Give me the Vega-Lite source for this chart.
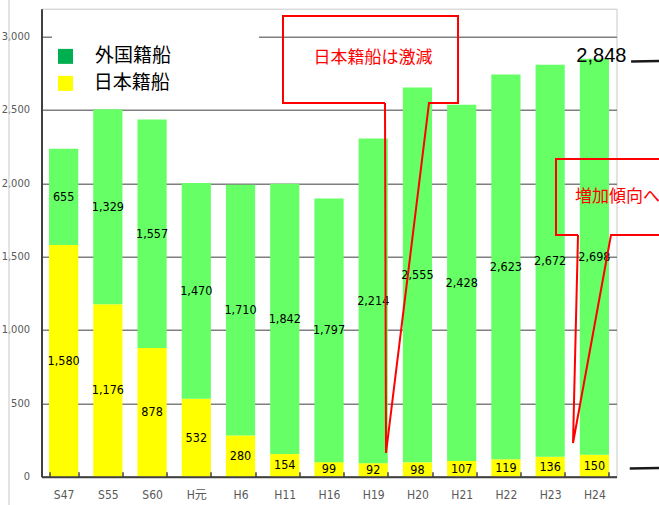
{
  "$schema": "https://vega.github.io/schema/vega-lite/v6.json",
  "width": 575,
  "height": 468,
  "autosize": "none",
  "padding": {"left": 41.5, "top": 8.7, "right": 42, "bottom": 28.3},
  "background": "white",
  "config": {
    "view": {"stroke": "#c8c8c8", "strokeWidth": 1},
    "text": {"font": "Liberation Sans Narrow, DejaVu Sans Condensed, Noto Sans CJK JP, sans-serif"},
    "axisY": {
      "title": null,
      "labelColor": "#595959",
      "labelFont": "Liberation Sans Narrow, DejaVu Sans Condensed, sans-serif",
      "labelFontSize": 11,
      "labelPadding": 12,
      "ticks": false,
      "domainColor": "#404040",
      "domainWidth": 2,
      "gridColor": "#7f7f7f",
      "gridWidth": 1.5
    }
  },
  "datasets": {
    "ships": [
      {"era": "S47", "type": "日本籍船", "count": 1580},
      {"era": "S47", "type": "外国籍船", "count": 655},
      {"era": "S55", "type": "日本籍船", "count": 1176},
      {"era": "S55", "type": "外国籍船", "count": 1329},
      {"era": "S60", "type": "日本籍船", "count": 878},
      {"era": "S60", "type": "外国籍船", "count": 1557},
      {"era": "H元", "type": "日本籍船", "count": 532},
      {"era": "H元", "type": "外国籍船", "count": 1470},
      {"era": "H6", "type": "日本籍船", "count": 280},
      {"era": "H6", "type": "外国籍船", "count": 1710},
      {"era": "H11", "type": "日本籍船", "count": 154},
      {"era": "H11", "type": "外国籍船", "count": 1842},
      {"era": "H16", "type": "日本籍船", "count": 99},
      {"era": "H16", "type": "外国籍船", "count": 1797},
      {"era": "H19", "type": "日本籍船", "count": 92},
      {"era": "H19", "type": "外国籍船", "count": 2214},
      {"era": "H20", "type": "日本籍船", "count": 98},
      {"era": "H20", "type": "外国籍船", "count": 2555},
      {"era": "H21", "type": "日本籍船", "count": 107},
      {"era": "H21", "type": "外国籍船", "count": 2428},
      {"era": "H22", "type": "日本籍船", "count": 119},
      {"era": "H22", "type": "外国籍船", "count": 2623},
      {"era": "H23", "type": "日本籍船", "count": 136},
      {"era": "H23", "type": "外国籍船", "count": 2672},
      {"era": "H24", "type": "日本籍船", "count": 150},
      {"era": "H24", "type": "外国籍船", "count": 2698}
    ],
    "callouts": [
      {"id": "decline", "i": 0, "bx": 7.766, "v": 2548},
      {"id": "decline", "i": 1, "bx": 5.46, "v": 2548},
      {"id": "decline", "i": 2, "bx": 5.46, "v": 3141},
      {"id": "decline", "i": 3, "bx": 9.417, "v": 3141},
      {"id": "decline", "i": 4, "bx": 9.417, "v": 2548},
      {"id": "decline", "i": 5, "bx": 8.761, "v": 2548},
      {"id": "decline", "i": 6, "bx": 7.789, "v": 162},
      {"id": "decline", "i": 7, "bx": 7.766, "v": 2548},
      {"id": "rise", "i": 0, "bx": 12.13, "v": 1648},
      {"id": "rise", "i": 1, "bx": 11.632, "v": 1648},
      {"id": "rise", "i": 2, "bx": 11.632, "v": 2166},
      {"id": "rise", "i": 3, "bx": 14.89, "v": 2166},
      {"id": "rise", "i": 4, "bx": 14.89, "v": 1648},
      {"id": "rise", "i": 5, "bx": 12.876, "v": 1648},
      {"id": "rise", "i": 6, "bx": 12.017, "v": 230},
      {"id": "rise", "i": 7, "bx": 12.13, "v": 1648}
    ],
    "legendItems": [
      {"type": "外国籍船", "bx": 0.543, "v": 2865, "tx": 1.21},
      {"type": "日本籍船", "bx": 0.543, "v": 2681, "tx": 1.18}
    ]
  },
  "resolve": {"scale": {"x": "independent"}, "axis": {"x": "independent"}},
  "layer": [
    {
      "data": {"name": "ships"},
      "transform": [
        {"stack": "count", "groupby": ["era"], "sort": [{"field": "type", "order": "descending"}], "as": ["y0", "y1"]}
      ],
      "encoding": {
        "x": {
          "field": "era",
          "type": "nominal",
          "sort": ["S47", "S55", "S60", "H元", "H6", "H11", "H16", "H19", "H20", "H21", "H22", "H23", "H24"],
          "scale": {"paddingInner": 0.34, "paddingOuter": 0.17},
          "axis": {
            "title": null,
            "labelAngle": 0,
            "labelColor": "#595959",
            "labelFont": "Liberation Sans Narrow, DejaVu Sans Condensed, Noto Sans CJK JP, sans-serif",
            "labelFontSize": 12,
            "labelPadding": 18,
            "domainColor": "#404040",
            "domainWidth": 2,
            "tickBand": "extent",
            "tickSize": -5,
            "tickColor": "#404040",
            "tickWidth": 1.5,
            "zindex": 1
          }
        }
      },
      "layer": [
        {
          "mark": {"type": "bar"},
          "encoding": {
            "y": {
              "field": "y0",
              "type": "quantitative",
              "scale": {"domain": [0, 3190], "nice": false},
              "axis": {"title": null, "values": [0, 500, 1000, 1500, 2000, 2500, 3000], "labelExpr": "format(datum.value, ',')"}
            },
            "y2": {"field": "y1"},
            "color": {
              "field": "type",
              "type": "nominal",
              "scale": {"domain": ["外国籍船", "日本籍船"], "range": ["#66ff66", "#ffff00"]},
              "legend": null
            }
          }
        },
        {
          "transform": [{"fold": ["y0", "y1"], "as": ["end", "pos"]}],
          "mark": {"type": "text", "fontSize": 12.5, "color": "#000000", "baseline": "middle"},
          "encoding": {
            "y": {"aggregate": "mean", "field": "pos", "type": "quantitative", "scale": {"domain": [0, 3190], "nice": false}, "axis": {"title": null, "values": [0, 500, 1000, 1500, 2000, 2500, 3000], "labelExpr": "format(datum.value, ',')"}},
            "detail": {"field": "type"},
            "text": {"field": "count", "type": "quantitative", "format": ","}
          }
        },
        {
          "transform": [{"filter": "datum.era === 'H24' && datum.type === '外国籍船'"}],
          "mark": {"type": "text", "font": "Liberation Sans, Arial, sans-serif", "fontSize": 20, "color": "#000000", "baseline": "alphabetic", "dx": 7, "dy": 3},
          "encoding": {
            "y": {"field": "y1", "type": "quantitative", "scale": {"domain": [0, 3190], "nice": false}, "axis": {"title": null, "values": [0, 500, 1000, 1500, 2000, 2500, 3000], "labelExpr": "format(datum.value, ',')"}},
            "text": {"field": "y1", "type": "quantitative", "format": ","}
          }
        }
      ]
    },
    {
      "layer": [
        {
          "data": {"values": [{"x0": 0.237, "x1": 4.918, "v0": 2568, "v1": 3046}]},
          "mark": {"type": "rect", "fill": "white"},
          "encoding": {
            "x": {"field": "x0", "type": "quantitative", "scale": {"domain": [0, 13], "nice": false, "zero": false}, "axis": null},
            "x2": {"field": "x1"},
            "y": {"field": "v0", "type": "quantitative", "scale": {"domain": [0, 3190], "nice": false}, "axis": {"title": null, "values": [0, 500, 1000, 1500, 2000, 2500, 3000], "labelExpr": "format(datum.value, ',')"}},
            "y2": {"field": "v1"}
          }
        },
        {
          "data": {"name": "legendItems"},
          "mark": {"type": "square", "size": 225, "filled": true, "opacity": 1},
          "encoding": {
            "x": {"field": "bx", "type": "quantitative", "scale": {"domain": [0, 13], "nice": false, "zero": false}, "axis": null},
            "y": {"field": "v", "type": "quantitative", "scale": {"domain": [0, 3190], "nice": false}, "axis": {"title": null, "values": [0, 500, 1000, 1500, 2000, 2500, 3000], "labelExpr": "format(datum.value, ',')"}},
            "fill": {"field": "type", "type": "nominal", "scale": {"domain": ["外国籍船", "日本籍船"], "range": ["#00b050", "#ffff00"]}, "legend": null}
          }
        },
        {
          "data": {"name": "legendItems"},
          "mark": {"type": "text", "font": "Noto Sans CJK JP, sans-serif", "fontSize": 19, "color": "#000000", "align": "left", "baseline": "middle"},
          "encoding": {
            "x": {"field": "tx", "type": "quantitative", "scale": {"domain": [0, 13], "nice": false, "zero": false}, "axis": null},
            "y": {"field": "v", "type": "quantitative", "scale": {"domain": [0, 3190], "nice": false}, "axis": {"title": null, "values": [0, 500, 1000, 1500, 2000, 2500, 3000], "labelExpr": "format(datum.value, ',')"}},
            "text": {"field": "type"}
          }
        },
        {
          "data": {"name": "callouts"},
          "mark": {"type": "line", "color": "#ff0000", "strokeWidth": 2, "strokeJoin": "miter"},
          "encoding": {
            "x": {"field": "bx", "type": "quantitative", "scale": {"domain": [0, 13], "nice": false, "zero": false}, "axis": null},
            "y": {"field": "v", "type": "quantitative", "scale": {"domain": [0, 3190], "nice": false}, "axis": {"title": null, "values": [0, 500, 1000, 1500, 2000, 2500, 3000], "labelExpr": "format(datum.value, ',')"}},
            "detail": {"field": "id"},
            "order": {"field": "i", "type": "quantitative"}
          }
        },
        {
          "data": {"values": [{"note": "日本籍船は激減", "bx": 7.495, "v": 2855}]},
          "mark": {"type": "text", "font": "Noto Sans CJK JP, sans-serif", "fontSize": 17, "color": "#ff0000", "align": "center", "baseline": "middle"},
          "encoding": {
            "x": {"field": "bx", "type": "quantitative", "scale": {"domain": [0, 13], "nice": false, "zero": false}, "axis": null},
            "y": {"field": "v", "type": "quantitative", "scale": {"domain": [0, 3190], "nice": false}, "axis": {"title": null, "values": [0, 500, 1000, 1500, 2000, 2500, 3000], "labelExpr": "format(datum.value, ',')"}},
            "text": {"field": "note"}
          }
        },
        {
          "data": {"values": [{"note": "増加傾向へ", "bx": 12.06, "v": 1906}]},
          "mark": {"type": "text", "font": "Noto Sans CJK JP, sans-serif", "fontSize": 17, "color": "#ff0000", "align": "left", "baseline": "middle"},
          "encoding": {
            "x": {"field": "bx", "type": "quantitative", "scale": {"domain": [0, 13], "nice": false, "zero": false}, "axis": null},
            "y": {"field": "v", "type": "quantitative", "scale": {"domain": [0, 3190], "nice": false}, "axis": {"title": null, "values": [0, 500, 1000, 1500, 2000, 2500, 3000], "labelExpr": "format(datum.value, ',')"}},
            "text": {"field": "note"}
          }
        },
        {
          "data": {"values": [{"bx": -0.735, "v0": 3250, "v1": -193}]},
          "mark": {"type": "rule", "color": "#c8c8c8", "strokeWidth": 1},
          "encoding": {
            "x": {"field": "bx", "type": "quantitative", "scale": {"domain": [0, 13], "nice": false, "zero": false}, "axis": null},
            "y": {"field": "v0", "type": "quantitative", "scale": {"domain": [0, 3190], "nice": false}, "axis": {"title": null, "values": [0, 500, 1000, 1500, 2000, 2500, 3000], "labelExpr": "format(datum.value, ',')"}},
            "y2": {"field": "v1"}
          }
        },
        {
          "data": {"values": [{"b0": 13.33, "b1": 14.3, "v0": 2830, "v1": 2836}, {"b0": 13.3, "b1": 14.3, "v0": 56, "v1": 60}]},
          "mark": {"type": "rule", "color": "#1a1a1a", "strokeWidth": 2.5},
          "encoding": {
            "x": {"field": "b0", "type": "quantitative", "scale": {"domain": [0, 13], "nice": false, "zero": false}, "axis": null},
            "x2": {"field": "b1"},
            "y": {"field": "v0", "type": "quantitative", "scale": {"domain": [0, 3190], "nice": false}, "axis": {"title": null, "values": [0, 500, 1000, 1500, 2000, 2500, 3000], "labelExpr": "format(datum.value, ',')"}},
            "y2": {"field": "v1"}
          }
        }
      ]
    }
  ]
}
